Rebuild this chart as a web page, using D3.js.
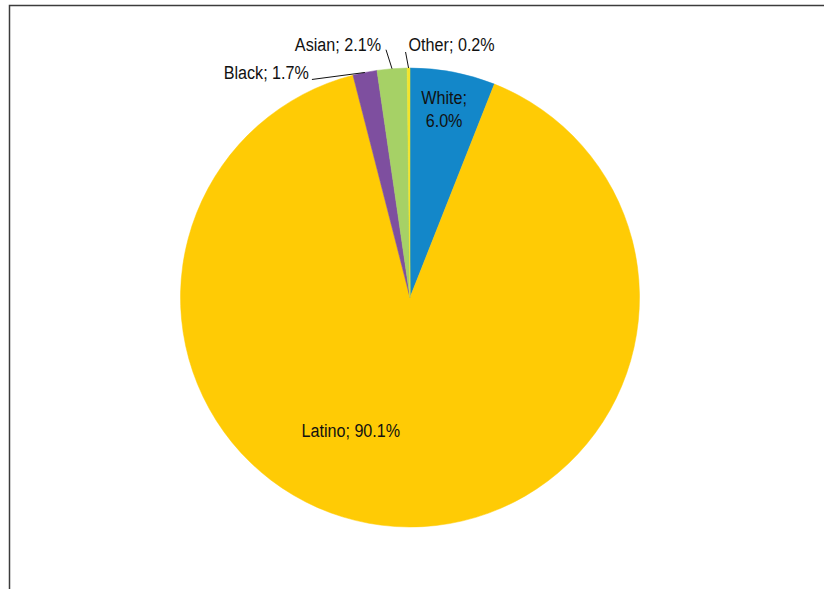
<!DOCTYPE html>
<html>
<head>
<meta charset="utf-8">
<script src="https://cdn.jsdelivr.net/npm/d3@7"></script>
<style>
  html, body { margin: 0; padding: 0; background: #fff; }
  svg { display: block; }
  text { font-family: "Liberation Sans", Arial, sans-serif; fill: #111; }
</style>
</head>
<body>
<svg id="chart" width="824" height="589"></svg>
<script>
// ---- data ----
const categories = ["White", "Latino", "Black", "Asian", "Other"];
const shares = [6.0, 90.1, 1.7, 2.1, 0.2];
const valueLabels = ["6.0%", "90.1%", "1.7%", "2.1%", "0.2%"];
const colors = ["#1387c9", "#ffcb05", "#7e4f9f", "#a6d166", "#f3e42b"];

const W = 824, H = 589;
const cx = 410, cy = 297.5, R = 229.5;
const svg = d3.select("#chart");

// frame
svg.append("rect")
  .attr("x", 9.5).attr("y", 5.5).attr("width", 900).attr("height", 700)
  .attr("fill", "none").attr("stroke", "#3c3c3c").attr("stroke-width", 1.5);

const pie = d3.pie().sort(null).value(d => d)(shares);
const arc = d3.arc().innerRadius(0).outerRadius(R);
const g = svg.append("g").attr("transform", `translate(${cx},${cy})`);

g.selectAll("path.slice").data(pie).join("path")
  .attr("class", "slice")
  .attr("d", arc)
  .attr("fill", (d, i) => colors[i])
  .attr("stroke", (d, i) => colors[i])
  .attr("stroke-width", 0.5);

const fs = 19, sx = 0.85;
const mid = d => (d.startAngle + d.endAngle) / 2;
const onArc = (a, r) => [r * Math.sin(a), -r * Math.cos(a)];
const label = (x, y, anchor) => g.append("text")
  .attr("text-anchor", anchor).attr("font-size", fs)
  .attr("transform", `translate(${x},${y}) scale(${sx},1)`);

// label layout
const layout = [
  { type: "inside", r: 0.84 },
  { type: "centroid", dx: -52, dy: 18 },
  { type: "outside", end: [-53, 7], anchor: "end", tx: -3, ty: 0 },
  { type: "outside", end: [-6, -19], anchor: "end", tx: -5, ty: 1 },
  { type: "outside", end: [-3, -16], anchor: "start", tx: 3, ty: -1 }
];

pie.forEach((d, i) => {
  const L = layout[i];
  const text = `${categories[i]}; ${valueLabels[i]}`;
  if (L.type === "inside") {
    const [x, y] = onArc(mid(d), R * L.r);
    const t = label(x - 2, y, "middle");
    t.append("tspan").attr("x", 0).attr("y", -4).text(categories[i] + ";");
    t.append("tspan").attr("x", 0).attr("y", 19).text(valueLabels[i]);
  } else if (L.type === "centroid") {
    const [x, y] = arc.centroid(d);
    label(x + L.dx, y + L.dy + 7, "middle").text(text);
  } else {
    const [x0, y0] = onArc(mid(d), R);
    const x1 = x0 + L.end[0], y1 = y0 + L.end[1];
    g.append("line").attr("x1", x0).attr("y1", y0).attr("x2", x1).attr("y2", y1)
      .attr("stroke", "#111").attr("stroke-width", 1);
    label(x1 + L.tx, y1 + L.ty, L.anchor).text(text);
  }
});
</script>
</body>
</html>
